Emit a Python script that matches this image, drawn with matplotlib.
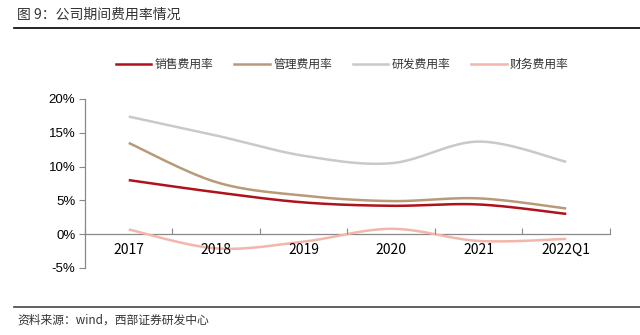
import numpy as np
import matplotlib.pyplot as plt
from matplotlib.lines import Line2D

plt.rcParams['font.family'] = ['Noto Sans CJK SC', 'DejaVu Sans']

years = ['2017', '2018', '2019', '2020', '2021', '2022Q1']
sales = [8.0, 6.2, 4.7, 4.2, 4.4, 3.0]      # 销售费用率
admin = [13.5, 7.7, 5.7, 4.9, 5.3, 3.8]     # 管理费用率
rnd = [17.4, 14.6, 11.6, 10.5, 13.7, 10.7]  # 研发费用率
fin = [0.7, -2.1, -1.1, 0.8, -1.0, -0.7]    # 财务费用率

names = ['销售费用率', '管理费用率', '研发费用率', '财务费用率']
colors = ['#B0121B', '#B89A78', '#C9C9C9', '#F2B6AA']


def smooth(x, y, n=40):
    # excel style smoothed line: cubic bezier through the points
    x = np.asarray(x, float)
    y = np.asarray(y, float)
    xs, ys = [], []
    for i in range(len(x) - 1):
        p0 = np.array([x[max(i - 1, 0)], y[max(i - 1, 0)]])
        p1 = np.array([x[i], y[i]])
        p2 = np.array([x[i + 1], y[i + 1]])
        p3 = np.array([x[min(i + 2, len(x) - 1)], y[min(i + 2, len(x) - 1)]])
        c1 = p1 + (p2 - p0) / 6
        c2 = p2 - (p3 - p1) / 6
        t = np.linspace(0, 1, n)[:, None]
        pts = (1 - t) ** 3 * p1 + 3 * (1 - t) ** 2 * t * c1 + 3 * (1 - t) * t ** 2 * c2 + t ** 3 * p2
        xs.extend(pts[:, 0])
        ys.extend(pts[:, 1])
    return xs, ys


fig = plt.figure(figsize=(6.4, 3.35), dpi=100)
ax = fig.add_axes([0.1328, 0.2, 0.8203, 0.5045])

xpos = np.arange(len(years))
series = [sales, admin, rnd, fin]
# draw back to front so red ends up on top
for vals, c, z in zip(series, colors, [4, 3, 2, 1]):
    sx, sy = smooth(xpos, vals)
    ax.plot(sx, sy, color=c, lw=1.8, zorder=z, solid_capstyle='butt')

ax.set_xlim(-0.5, len(years) - 0.5)
ax.set_ylim(-5, 20)
ax.set_yticks([-5, 0, 5, 10, 15, 20])
ax.set_yticklabels([f'{v}%' for v in [-5, 0, 5, 10, 15, 20]],
                   family='Liberation Sans', fontsize=9.5)
ax.set_xticks(xpos)
ax.set_xticklabels(years, family='Liberation Sans', fontsize=9.5)
ax.set_xticks(np.arange(-0.5, len(years)), minor=True)
ax.tick_params(axis='x', which='major', length=0, pad=6)
ax.tick_params(axis='x', which='minor', length=4, direction='in',
               color='#888888', width=0.8)
ax.tick_params(axis='y', length=4, color='#888888', width=0.8, pad=3)

# x axis sits on the zero line
ax.spines['bottom'].set_position(('data', 0))
ax.spines['bottom'].set_color('#888888')
ax.spines['bottom'].set_linewidth(0.9)
ax.spines['bottom'].set_zorder(0)
for s in ['top', 'right']:
    ax.spines[s].set_visible(False)
ax.spines['left'].set_color('#888888')
ax.spines['left'].set_linewidth(0.9)

handles = [Line2D([], [], color=c, lw=1.8) for c in colors]
fig.legend(handles, names, loc='center', bbox_to_anchor=(0.535, 0.808), ncol=4,
           frameon=False, fontsize=8.5, handlelength=3.0, handletextpad=0.3,
           columnspacing=1.75, labelcolor='#333333')

fig.text(0.027, 0.955, '图 9：公司期间费用率情况', fontsize=10, color='#333333',
         va='center', ha='left')
fig.add_artist(Line2D([0.022, 1.0], [0.915, 0.915], color='black', lw=1.2))
fig.add_artist(Line2D([0.022, 1.0], [0.085, 0.085], color='#444444', lw=1.2))
fig.text(0.027, 0.043, '资料来源：wind，西部证券研发中心', fontsize=8.5, color='#333333',
         va='center', ha='left')

fig.savefig('out.png', dpi=100)
